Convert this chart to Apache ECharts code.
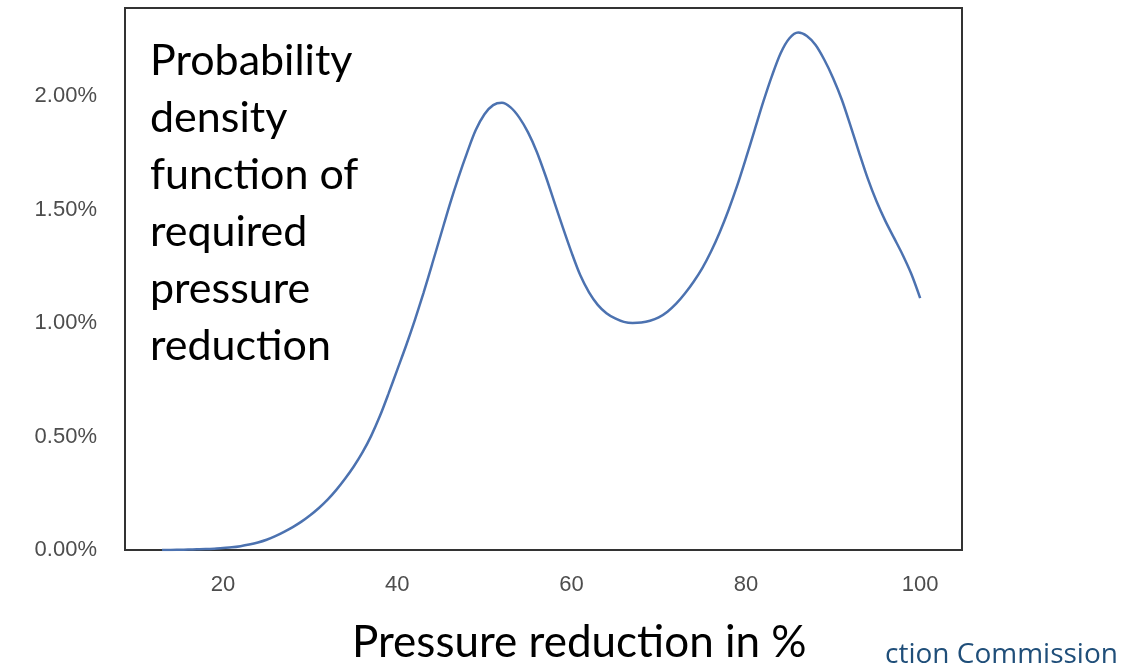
<!DOCTYPE html>
<html>
<head>
<meta charset="utf-8">
<script src="https://cdn.jsdelivr.net/npm/echarts@6/dist/echarts.min.js"></script>
<style>
  html, body { margin: 0; padding: 0; background: #fff; }
  #main { width: 1142px; height: 667px; }
</style>
</head>
<body>
<div id="main"></div>
<script>
// pressure reduction in % (x, steps of 1 from 13 to 100) and density in % (y)
var reductions = [];
for (var r = 13; r <= 100; r++) reductions.push(r);
var densities = [
    0.000, 0.000, 0.001, 0.002, 0.003, 0.004, 0.006, 0.009,             // 13-20
    0.012, 0.017, 0.024, 0.033, 0.045, 0.061, 0.080, 0.101, 0.125, 0.153, // 21-30
    0.185, 0.222, 0.265, 0.314, 0.368, 0.430, 0.503, 0.590, 0.690, 0.795, // 31-40
    0.900, 1.012, 1.132, 1.260, 1.390, 1.520, 1.640, 1.750, 1.850, 1.920, // 41-50
    1.960, 1.970, 1.950, 1.905, 1.840, 1.755, 1.650, 1.535, 1.420, 1.310, // 51-60
    1.210, 1.135, 1.080, 1.043, 1.020, 1.005, 1.000, 1.002, 1.010, 1.025, // 61-70
    1.050, 1.085, 1.130, 1.182, 1.242, 1.315, 1.400, 1.497, 1.605, 1.725, // 71-80
    1.850, 1.975, 2.090, 2.190, 2.255, 2.280, 2.265, 2.225, 2.160, 2.080, // 81-90
    1.985, 1.870, 1.750, 1.635, 1.535, 1.450, 1.375, 1.300, 1.215, 1.110  // 91-100
];
var xTicks = [20, 40, 60, 80, 100];
var yTicks = [0, 0.5, 1, 1.5, 2];

var pts = [];
for (var i = 0; i < reductions.length; i++) {
    pts.push([reductions[i], densities[i]]);
}

var myChart = echarts.init(document.getElementById('main'));
var option = {
    animation: false,
    backgroundColor: '#fff',
    grid: {
        left: 125, right: 180, top: 8, bottom: 117,
        show: true,
        borderColor: '#333',
        borderWidth: 2,
        containLabel: false
    },
    xAxis: {
        type: 'value',
        min: 8.75,
        max: 104.8,
        axisLine: { show: false },
        axisTick: { show: false },
        splitLine: { show: false },
        axisLabel: {
            customValues: xTicks,
            margin: 24,
            color: '#4d4d4d',
            fontFamily: 'Liberation Sans',
            fontSize: 22
        }
    },
    yAxis: {
        type: 'value',
        min: 0,
        max: 2.388,
        axisLine: { show: false },
        axisTick: { show: false },
        splitLine: { show: false },
        axisLabel: {
            customValues: yTicks,
            margin: 28,
            color: '#4d4d4d',
            fontFamily: 'Liberation Sans',
            fontSize: 22,
            formatter: function (v) {
                return v.toFixed(2) + '%';
            }
        }
    },
    series: [
        {
            type: 'line',
            data: pts,
            smooth: 0.3,
            showSymbol: false,
            lineStyle: { color: '#4c72b0', width: 2.5 }
        }
    ],
    graphic: [
        {
            type: 'text',
            left: 150,
            top: 33,
            style: {
                text: 'Probability\ndensity\nfunction of\nrequired\npressure\nreduction',
                font: '43px Lato',
                lineHeight: 57,
                fill: '#000'
            }
        },
        {
            type: 'text',
            left: 352,
            top: 621,
            style: {
                text: 'Pressure reduction in %',
                font: '44px Lato',
                fill: '#000'
            }
        },
        {
            type: 'text',
            left: 885,
            top: 641,
            style: {
                text: 'ction Commission',
                font: '28px "Open Sans"',
                fill: '#1f4e79'
            }
        }
    ]
};
myChart.setOption(option);
</script>
</body>
</html>
